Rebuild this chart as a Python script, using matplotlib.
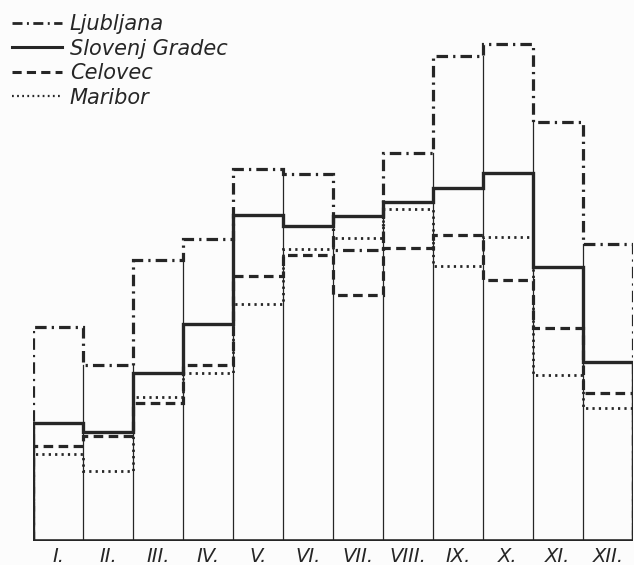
import numpy as np
import matplotlib.pyplot as plt
from matplotlib.lines import Line2D

months = ['I.', 'II.', 'III.', 'IV.', 'V.', 'VI.', 'VII.', 'VIII.', 'IX.', 'X.', 'XI.', 'XII.']
ljubljana = [64.8, 53.3, 85.2, 91.5, 112.7, 111.2, 88.2, 117.6, 147.0, 150.6, 127.0, 90.0]
sl_gradec = [35.8, 33.0, 50.9, 65.8, 98.8, 95.5, 98.5, 102.7, 107.0, 111.5, 83.0, 54.2]
celovec = [28.8, 31.8, 41.8, 53.3, 80.3, 86.7, 74.5, 88.8, 92.7, 79.1, 64.5, 44.8]
maribor = [26.4, 21.2, 43.6, 50.9, 71.8, 88.5, 91.8, 100.6, 83.3, 92.1, 50.3, 40.3]

ink = '#262626'
W, H = 634, 565
fig = plt.figure(figsize=(W/100, H/100), dpi=100)
fig.patch.set_facecolor('#fcfcfc')
ax = fig.add_axes([33/W, 24/H, 600/W, 541/H])
ax.set_facecolor('none')
edges = np.arange(13)

# thin separators between months, up to the lower of the two neighbouring tops
tops = np.max([ljubljana, sl_gradec, celovec, maribor], axis=0)
for i in range(1, 12):
    ax.plot([i, i], [0, min(tops[i-1], tops[i])], color=ink, lw=0.9, zorder=1)

series = [
    (ljubljana, 'Ljubljana', dict(ls=(0, (3.6, 1.6, 0.7, 1.6)), lw=2.3)),
    (maribor, 'Maribor', dict(ls=(0, (0.8, 1.5)), lw=2.0)),
    (celovec, 'Celovec', dict(ls=(0, (3.0, 1.7)), lw=2.3)),
    (sl_gradec, 'Slovenj Gradec', dict(ls='-', lw=2.4)),
]
for z, (vals, name, st) in enumerate(series):
    ax.stairs(vals, edges, baseline=0, color=ink, zorder=2 + z, **st)

ax.plot([0, 12], [0, 0], color=ink, lw=2.6, zorder=10, solid_capstyle='butt')

ax.set_xlim(0, 12)
ax.set_ylim(0, 541/3.3)
for s in ax.spines.values():
    s.set_visible(False)
ax.set_yticks([])
ax.set_xticks(edges[:-1] + 0.5)
ax.set_xticklabels(months, fontstyle='italic', fontsize=14, color=ink)
ax.tick_params(axis='x', length=0, pad=4)

handles = [
    Line2D([], [], color=ink, ls=(0, (3.6, 1.6, 0.7, 1.6)), lw=2.0),
    Line2D([], [], color=ink, ls='-', lw=2.2),
    Line2D([], [], color=ink, ls=(0, (3.0, 1.7)), lw=2.2),
    Line2D([], [], color=ink, ls=(0, (0.8, 1.5)), lw=1.6),
]
labels = ['Ljubljana', 'Slovenj Gradec', 'Celovec', 'Maribor']
fig.legend(handles, labels, loc='upper left', bbox_to_anchor=(12/W, 1 - 14/H),
           frameon=False, borderpad=0, borderaxespad=0, handlelength=2.4,
           handletextpad=0.38, labelspacing=0.22,
           prop=dict(style='italic', size=15), labelcolor=ink)

fig.savefig('out.png', dpi=100, facecolor=fig.get_facecolor())
